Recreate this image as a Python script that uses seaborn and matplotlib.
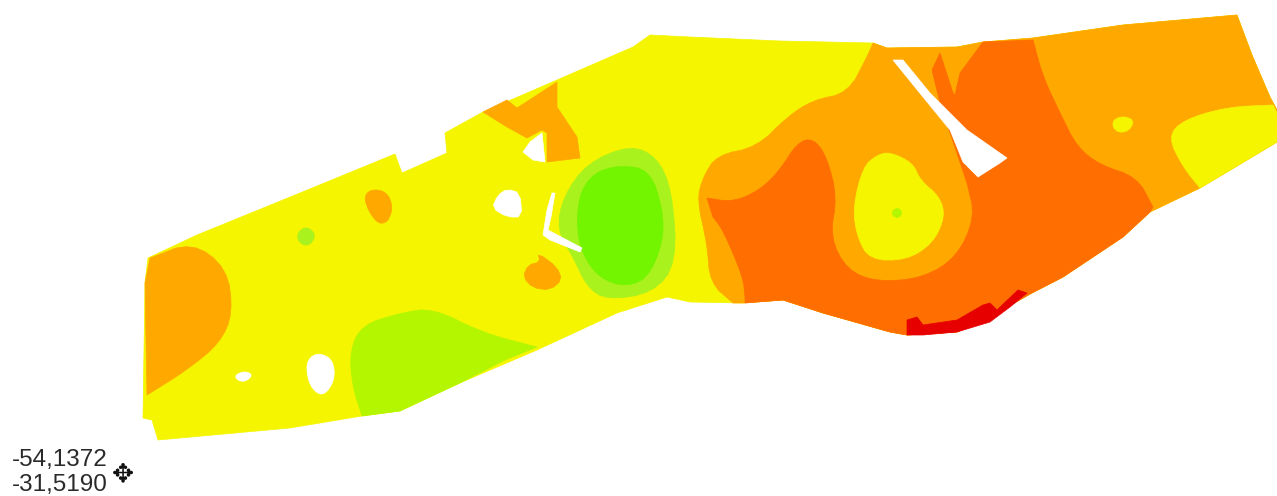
# contour map of the field, zones (pixel coords of the scan)
import seaborn as sns
import matplotlib.pyplot as plt

field_outline = [(148,258),(197,235),(300,193),(395,154),(402,173),(447,153),(445,133),(483,112),(557,80),(633,47),
                 (650,35),(690,37),(780,41),(873,43),(887,48),(957,47),(983,42),(1033,38),(1123,25),(1237,15),
                 (1252,55),(1270,97),(1277,110),(1277,142),(1200,188),(1150,212),(1123,237),(1063,277),(1030,294),
                 (990,317),(957,332),(907,335),(890,332),(823,313),(783,300),(743,303),(690,302),(667,297),(617,313),
                 (537,350),(462,382),(400,411),(362,416),(290,428),(158,440),(152,420),(143,418),(145,283)]
west_orange_edge = [(150,258),(192,242),(227,268),(233,313),(220,343),(187,370),(147,395)]
west_orange_rim = [(145,283)]
lime_south_edge = [(362,416),(352,385),(350,350),(362,325),(400,313),(433,308),(483,333),(537,347)]
lime_south_rim = [(505,360),(462,382),(400,411)]
green_halo = [(630,145),(657,157),(672,190),(677,263),(653,293),(607,300),(587,287),(573,257),(557,230),(563,197),(587,163)]
green_core = [(620,165),(650,170),(663,210),(663,243),(647,280),(620,287),(593,273),(577,240),(578,197),(593,173)]
north_orange = [(483,112),(507,100),(517,108),(557,82),(557,107),(577,137),(580,158),(547,162),(547,133),(542,130),(527,138),(507,127)]
blob_orange_a = [(372,189),(387,192),(393,207),(388,222),(378,224),(368,210),(364,196)]
blob_orange_b = [(538,253),(557,267),(562,280),(550,290),(533,288),(523,277),(528,265),(540,262)]
east_orange_edge = [(873,43),(867,57),(848,93),(813,100),(787,117),(757,147),(717,155),(703,177),(697,200),(707,243),(710,283),(733,303)]
east_orange_rim = [(743,303),(783,300),(823,313),(890,332),(907,335),(957,332),(990,317),(1030,294),(1063,277),
                   (1123,237),(1150,212),(1200,188),(1277,142),(1277,110),(1270,97),(1252,55),(1237,15),(1123,25),(1033,38),
                   (983,42),(957,47),(887,48)]
dark_edge_inner = [(707,198),(733,202),(760,190),(780,170),(797,143),(813,138),(827,157),(837,197),(830,237),(847,270),(877,282),
                   (923,278),(957,257),(975,217),(967,183)]
dark_tongue = [(940,103),(932,70),(940,53),(953,93),(955,95),(960,73),(983,42)]
dark_edge_east = [(1033,40),(1043,77),(1060,113),(1077,147),(1100,165),(1137,177),(1153,207)]
dark_rim = [(1150,212),(1123,237),(1063,277),(1030,294),(990,317),(957,332),(907,335),(890,332),(823,313),(783,300),(745,303)]
dark_edge_west = [(745,297),(743,277),(723,230),(713,217)]
red_rim = [(907,320),(917,317),(923,325),(957,320),(983,305),(990,303),(997,310),(1018,290),(1027,293),(1010,307),(990,322),(957,332),(923,335),(907,335)]
inner_yellow = [(890,152),(913,163),(920,180),(940,197),(945,217),(933,243),(907,260),(870,260),(857,237),(853,207),(863,167),(877,155)]
east_yellow_edge = [(1200,188),(1183,167),(1168,137),(1183,120),(1227,107),(1273,105)]
east_yellow_rim = [(1277,113),(1277,142)]
spot_yellow = [(1113,120),(1123,116),(1134,120),(1130,130),(1120,133),(1113,128)]
dot_green_a = [(306,227),(313,231),(315,237),(310,245),(302,245),(297,238),(299,231)]
dot_green_b = [(897,208),(901,210),(902,214),(898,218),(893,216),(892,211)]
hole_sliver = [(893,60),(903,60),(930,93),(967,130),(1007,158),(1000,163),(978,177),(963,162),(950,130),(923,97)]
hole_north = [(542,133),(545,162),(533,160),(523,152),(530,142)]
hole_blob = [(507,189),(520,193),(522,217),(507,217),(492,208),(498,195)]
hole_bend = [(555,193),(551,217),(548,230),(582,248),(580,252),(550,240),(543,235),(547,210),(552,193)]
hole_egg = [(320,353),(333,360),(335,380),(323,397),(310,387),(306,367),(310,357)]
hole_small = [(235,375),(245,371),(253,375),(245,382),(237,380)]
coord_labels = ["-54,1372", "-31,5190"]

YELLOW, ORANGE, DARK, RED = "#F5F500", "#FFA800", "#FF6E00", "#E60000"
LIME, HALO, GREEN = "#B4F500", "#AAF21E", "#73F500"


def soften(pts, closed=False, rounds=2):
    # corner cutting so the traced contours look less polygonal
    for _ in range(rounds):
        seq = list(pts) + [pts[0]] if closed else list(pts)
        out = [] if closed else [seq[0]]
        for (x0, y0), (x1, y1) in zip(seq[:-1], seq[1:]):
            out.append((0.75 * x0 + 0.25 * x1, 0.75 * y0 + 0.25 * y1))
            out.append((0.25 * x0 + 0.75 * x1, 0.25 * y0 + 0.75 * y1))
        if not closed:
            out.append(seq[-1])
        pts = out
    return pts


sns.set_theme(style="white")
plt.rcParams['font.family'] = ['Liberation Sans', 'DejaVu Sans']

fig, ax = plt.subplots(figsize=(12.77, 4.96), dpi=100)
ax.set_position([0, 0, 1, 1])

west_orange = soften(west_orange_edge) + west_orange_rim
lime_south = soften(lime_south_edge) + lime_south_rim
east_orange = soften(east_orange_edge) + east_orange_rim
east_dark = (soften(dark_edge_inner) + dark_tongue + soften(dark_edge_east) + dark_rim + soften(dark_edge_west))
east_yellow = soften(east_yellow_edge) + east_yellow_rim

# order matters, later zones sit on top
zones = [(field_outline, YELLOW), (west_orange, ORANGE), (lime_south, LIME),
         (soften(green_halo, True), HALO), (soften(green_core, True), GREEN),
         (north_orange, ORANGE), (soften(blob_orange_a, True), ORANGE), (soften(blob_orange_b, True, 1), ORANGE),
         (east_orange, ORANGE), (east_dark, DARK), (red_rim, RED), (soften(inner_yellow, True), YELLOW),
         (east_yellow, YELLOW), (soften(spot_yellow, True), YELLOW),
         (soften(dot_green_a, True), HALO), (soften(dot_green_b, True), LIME), (hole_sliver, "white"),
         (hole_north, "white"), (soften(hole_blob, True, 1), "white"), (hole_bend, "white"),
         (soften(hole_egg, True), "white"), (soften(hole_small, True), "white")]
for pts, col in zones:
    xs, ys = zip(*pts)
    ax.fill(xs, ys, color=col, lw=0.5)

ax.set_xlim(0, 1277)
ax.set_ylim(496, 0)
ax.set_xticks([])
ax.set_yticks([])
sns.despine(ax=ax, left=True, bottom=True)

ax.text(12, 460, coord_labels[0], fontsize=17.5, color="#2a2a2a", va="center", ha="left")
ax.text(12, 485, coord_labels[1], fontsize=17.5, color="#2a2a2a", va="center", ha="left")
ax.text(123, 474, "\u2725", fontsize=19, color="#111111", va="center", ha="center", family="DejaVu Sans")

fig.savefig("out.png", dpi=100)
